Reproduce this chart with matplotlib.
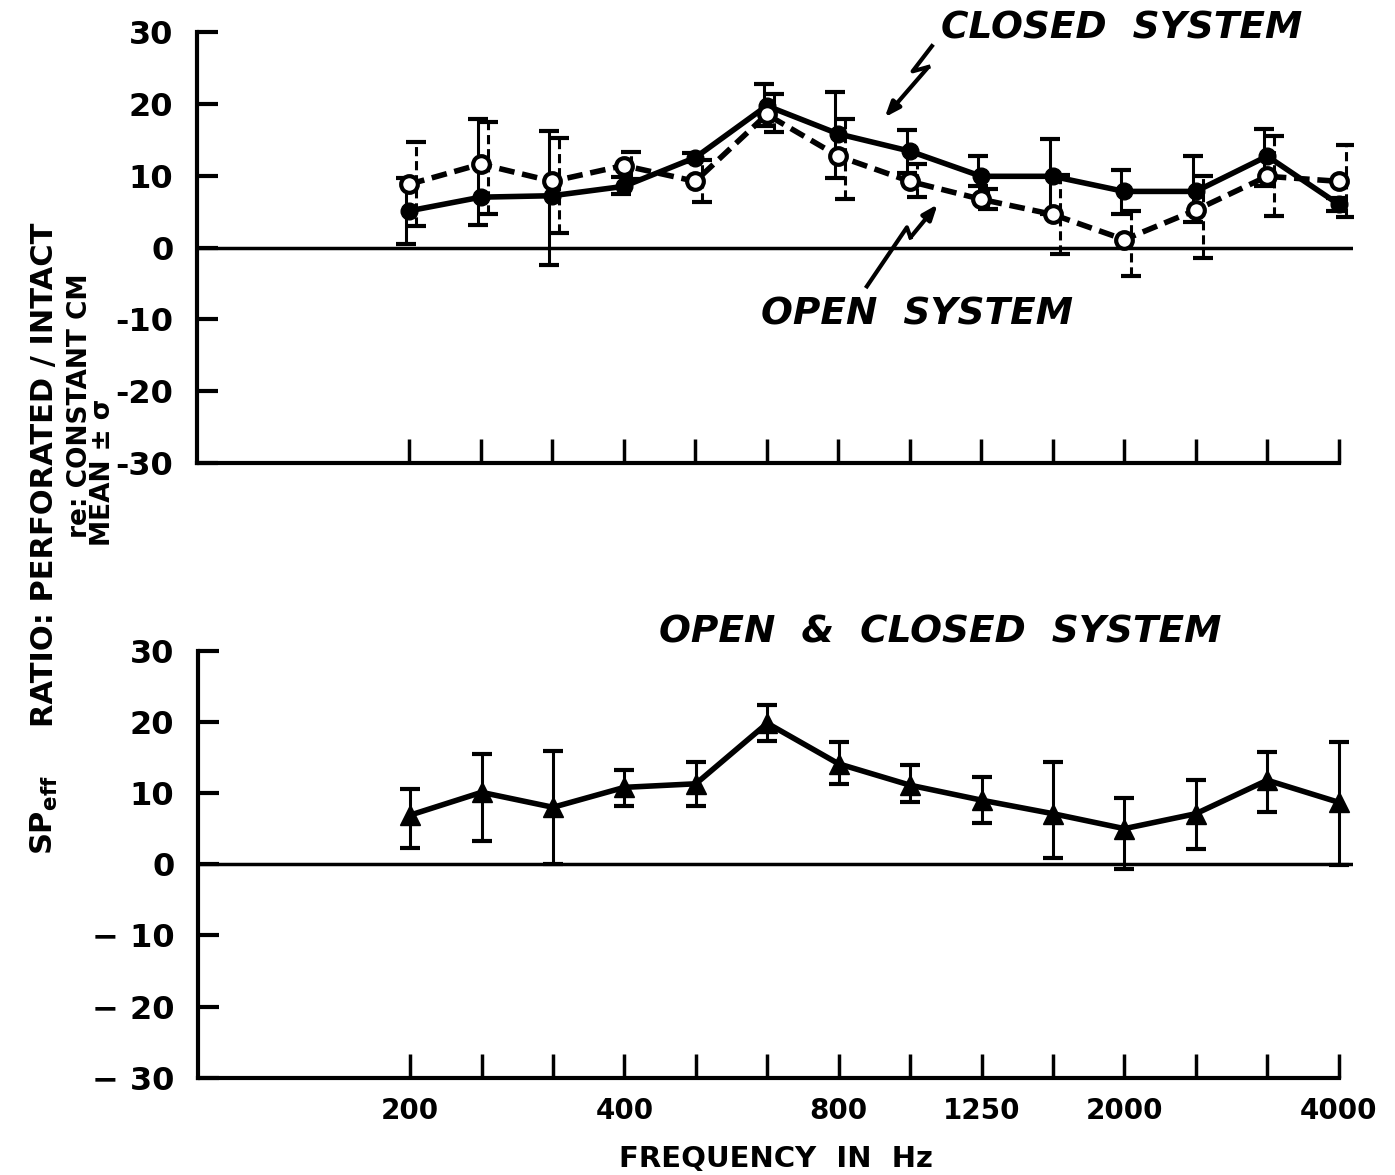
import numpy as np
import matplotlib.pyplot as plt

# 1/3-octave band centre frequencies (Hz)
freqs = ['200', '250', '315', '400', '500', '630', '800', '1000',
         '1250', '1600', '2000', '2500', '3150', '4000']
shown_freqs = ['200', '400', '800', '1250', '2000', '4000']

# closed system: mean and mean-sigma / mean+sigma (dB)
closed_mean = [5.1, 7.0, 7.2, 8.5, 12.5, 19.7, 15.8, 13.4, 9.9, 9.9, 7.8, 7.8, 12.7, 6.0]
closed_lo = [0.5, 3.1, -2.5, 7.4, 11.9, 16.9, 9.6, 10.4, 8.6, 4.7, 4.6, 3.5, 8.6, 5.1]
closed_hi = [9.7, 17.9, 16.2, 9.8, 13.2, 22.7, 21.6, 16.4, 12.7, 15.1, 10.8, 12.7, 16.5, 6.9]

# open system
open_mean = [8.8, 11.6, 9.2, 11.4, 9.2, 18.5, 12.7, 9.2, 6.7, 4.6, 1.1, 5.2, 9.9, 9.2]
open_lo = [3.0, 4.6, 2.0, 9.5, 6.3, 16.0, 6.8, 7.0, 5.3, -0.9, -4.0, -1.5, 4.4, 4.2]
open_hi = [14.6, 17.4, 15.2, 13.3, 12.1, 21.3, 17.9, 11.6, 8.1, 10.1, 5.1, 9.9, 15.5, 14.2]

# open & closed combined
both_mean = [6.9, 10.1, 8.0, 10.8, 11.3, 19.8, 14.1, 11.1, 9.0, 7.1, 5.0, 7.1, 11.8, 8.7]
both_lo = [2.3, 3.2, 0.0, 8.2, 8.2, 17.3, 11.2, 8.8, 5.8, 0.9, -0.7, 2.1, 7.4, -0.1]
both_hi = [10.5, 15.5, 15.9, 13.2, 14.4, 22.4, 17.1, 13.9, 12.3, 14.3, 9.3, 11.8, 15.8, 17.1]

yticks = [30, 20, 10, 0, -10, -20, -30]
top_yticklabels = ['30', '20', '10', '0', '-10', '-20', '-30']
bottom_yticklabels = ['30', '20', '10', '0', '\u2212 10', '\u2212 20', '\u2212 30']

plt.rcParams['font.family'] = ['DejaVu Sans']
plt.rcParams['font.weight'] = 'bold'

x = np.arange(len(freqs))

fig = plt.figure(figsize=(13.95, 11.75), dpi=100)
ax1 = fig.add_axes([0.1412, 0.6057, 0.8287, 0.3673])
ax2 = fig.add_axes([0.1419, 0.0826, 0.8280, 0.3637])


def style_axes(ax, ylabels, xlabels):
    ax.set_xlim(-2.97, 13.2)
    ax.set_ylim(-30, 30)
    for s in ['top', 'right']:
        ax.spines[s].set_visible(False)
    for s in ['left', 'bottom']:
        ax.spines[s].set_linewidth(3)
    ax.spines['left'].set_bounds(-30, 30)
    ax.spines['bottom'].set_bounds(-2.97, 13)
    ax.set_yticks(yticks)
    ax.set_yticklabels(ylabels, fontsize=23, fontweight='bold')
    ax.set_xticks(x)
    ax.set_xticklabels(xlabels, fontsize=20, fontweight='bold')
    ax.tick_params(axis='y', direction='in', length=15, width=3, pad=17)
    ax.tick_params(axis='x', direction='in', length=17, width=2.5, pad=14)
    ax.axhline(0, color='k', lw=2.5, zorder=1)


def draw_errors(ax, xs, mean, lo, hi, dashed=False):
    mean = np.array(mean)
    err = [mean - np.array(lo), np.array(hi) - mean]
    eb = ax.errorbar(xs, mean, yerr=err, fmt='none', ecolor='k',
                     elinewidth=2.2, capsize=7, capthick=3, zorder=2)
    if dashed:
        eb[2][0].set_linestyle((0, (3, 1.6)))


# ---- top panel ----
style_axes(ax1, top_yticklabels, [''] * len(freqs))

draw_errors(ax1, x - 0.04, closed_mean, closed_lo, closed_hi)
draw_errors(ax1, x + 0.1, open_mean, open_lo, open_hi, dashed=True)

ax1.plot(x, closed_mean, color='k', lw=4, marker='o', ms=12,
         mfc='k', mec='k', zorder=4)
ax1.plot(x, open_mean, color='k', lw=4, ls=(0, (2.8, 1.4)), marker='o',
         ms=12, mfc='white', mec='k', mew=3, zorder=5)

# zig-zag pointers
arrow = dict(arrowstyle='-|>,head_length=0.9,head_width=0.35', lw=3,
             color='k', shrinkA=0, shrinkB=0)
ax1.plot([7.31, 7.04, 7.26], [28.0, 24.5, 25.1], color='k', lw=3, clip_on=False)
ax1.annotate('', xy=(6.65, 18.1), xytext=(7.26, 25.1), arrowprops=arrow)
ax1.plot([6.40, 6.96, 7.01], [-5.4, 2.8, 1.4], color='k', lw=3)
ax1.annotate('', xy=(7.39, 6.0), xytext=(7.01, 1.4), arrowprops=arrow)

ax1.text(9.96, 30.5, 'CLOSED  SYSTEM', ha='center', va='center',
         fontsize=27, fontweight='bold', fontstyle='italic')
ax1.text(7.10, -9.3, 'OPEN  SYSTEM', ha='center', va='center',
         fontsize=27, fontweight='bold', fontstyle='italic')

# ---- bottom panel ----
bottom_xlabels = [f if f in shown_freqs else '' for f in freqs]
style_axes(ax2, bottom_yticklabels, bottom_xlabels)

draw_errors(ax2, x, both_mean, both_lo, both_hi)
ax2.plot(x, both_mean, color='k', lw=4, marker='^', ms=14,
         mfc='k', mec='k', zorder=4)

ax2.text(7.42, 32.6, 'OPEN  &  CLOSED  SYSTEM', ha='center', va='center',
         fontsize=27, fontweight='bold', fontstyle='italic')
ax2.set_xlabel('FREQUENCY  IN  Hz', fontsize=21, fontweight='bold', labelpad=14)

# shared y label
fig.text(0.032, 0.596, 'RATIO: PERFORATED / INTACT', rotation=90,
         ha='center', va='center', fontsize=22, fontweight='bold')
fig.text(0.032, 0.306, r'$\mathbf{SP_{eff}}$', rotation=90,
         ha='center', va='center', fontsize=22)
fig.text(0.057, 0.655, 're: CONSTANT CM', rotation=90,
         ha='center', va='center', fontsize=19, fontweight='bold')
fig.text(0.074, 0.598, 'MEAN \u00b1 \u03c3', rotation=90,
         ha='center', va='center', fontsize=19, fontweight='bold')

fig.savefig('out.png', dpi=100)
